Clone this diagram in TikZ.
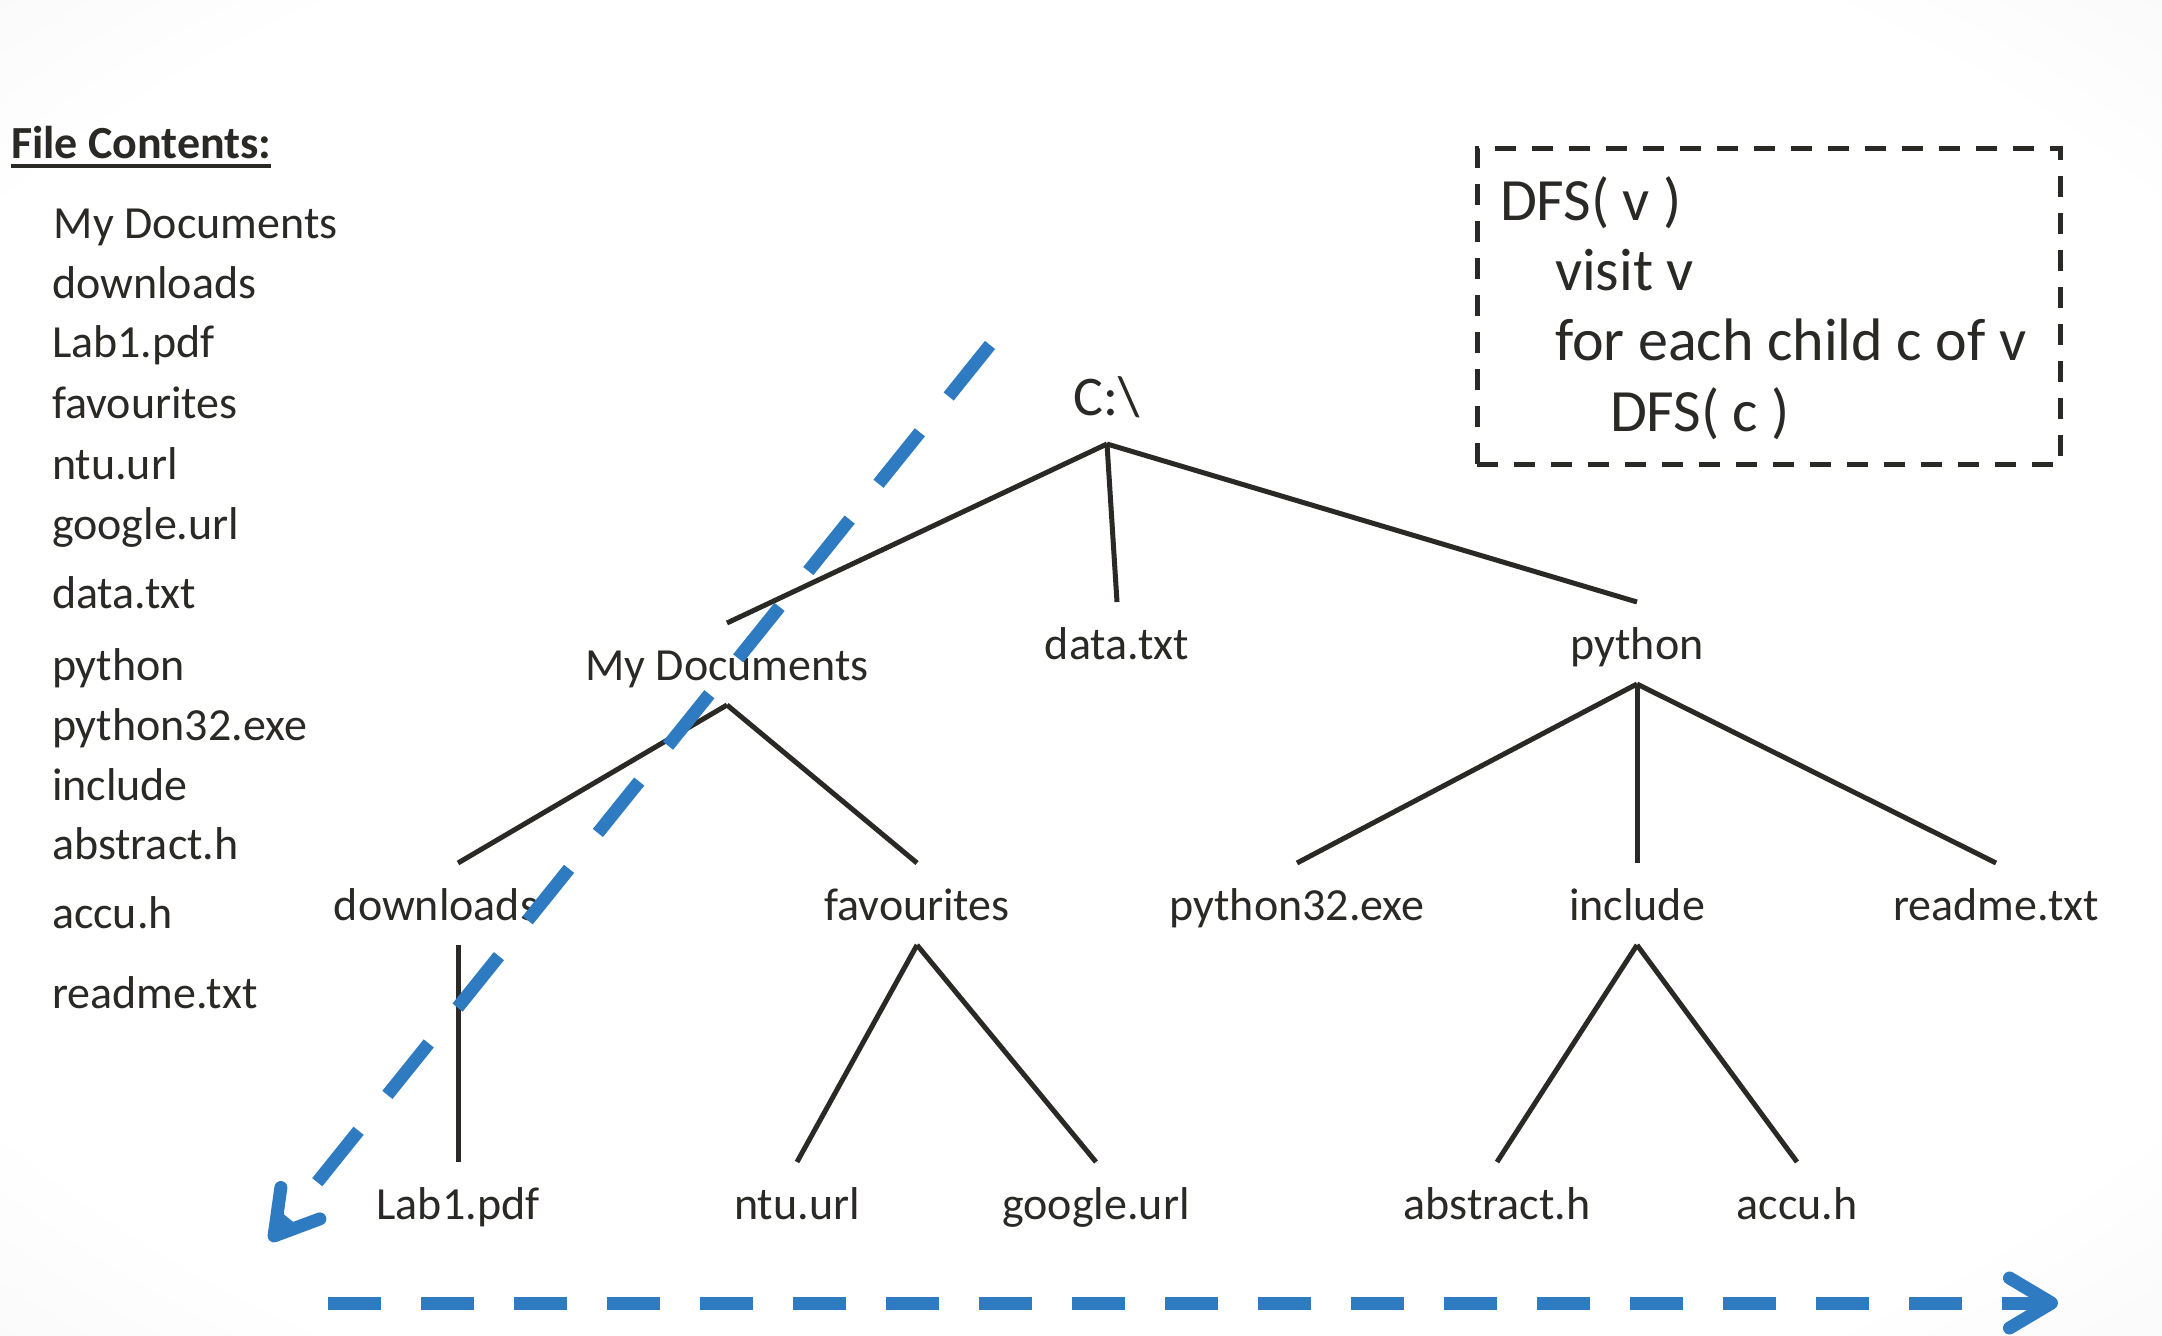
\documentclass[tikz,border=0pt]{standalone}
\usepackage{fontspec}
\setmainfont{Carlito}
\usetikzlibrary{arrows.meta}
\definecolor{ink}{RGB}{42,41,37}
\definecolor{dfsblue}{RGB}{46,123,193}
\pgfdeclareradialshading{vignette}{\pgfpoint{0bp}{0bp}}{color(0bp)=(white); color(30bp)=(white); color(50bp)=(black!7); color(72bp)=(black!16)}
\begin{document}
\begin{tikzpicture}[x=0.5pt,y=-0.5pt,
  every node/.style={inner sep=0pt, outer sep=0pt, text=ink},
  listitem/.style={anchor=base west, font=\fontsize{23}{27}\selectfont},
  treelabel/.style={anchor=base, font=\fontsize{23}{27}\selectfont, text height=28.5pt, text depth=12.5pt},
  codeline/.style={anchor=base west, font=\fontsize{30}{34}\selectfont},
  treeedge/.style={draw=ink, line width=2.5pt},
  dfsbox/.style={draw=ink, line width=2.5pt, dash pattern=on 10.5pt off 8pt},
  dfsarrow/.style={draw=dfsblue, line width=6.5pt, -{Straight Barb[length=21pt,width=25pt,line cap=round,line join=round]}}
]
\useasboundingbox (0,0) rectangle (2162,1336);
\shade[shading=vignette] (0,0) rectangle (2162,1336);

% file contents list
\node[anchor=base west, font=\bfseries\fontsize{23}{27}\selectfont] (fc) at (11,159) {File Contents:};
\draw[line width=2pt, ink] ([yshift=-3.5pt]fc.base west) -- ([yshift=-3.5pt]fc.base east);
\node[listitem] (l1) at (54,239) {My Documents};
\node[listitem] (l2) at (52,299) {downloads};
\node[listitem] (l3) at (52,358) {Lab1.pdf};
\node[listitem] (l4) at (52,419) {favourites};
\node[listitem] (l5) at (52,480) {ntu.url};
\node[listitem] (l6) at (52,539) {google.url};
\node[listitem] (l7) at (52,608) {data.txt};
\node[listitem] (l8) at (52,680) {python};
\node[listitem] (l9) at (52,740) {python32.exe};
\node[listitem] (l10) at (52,800) {include};
\node[listitem] (l11) at (52,859) {abstract.h};
\node[listitem] (l12) at (52,928) {accu.h};
\node[listitem] (l13) at (52,1008) {readme.txt};

% DFS pseudo code box
\node[dfsbox, minimum width=291.5pt, minimum height=158pt] (box) at (1768.5,307) {};
\node[codeline] (c1) at (1500,221) {DFS( v )};
\node[codeline] (c2) at (1555,291) {visit v};
\node[codeline] (c3) at (1555,361) {for each child c of v};
\node[codeline] (c4) at (1610,432) {DFS( c )};

% tree
\node[treelabel, font=\fontsize{28}{32}\selectfont, text depth=14pt] (root) at (1107,416) {C:\textbackslash};
\node[treelabel] (mydocs) at (727,680) {My Documents};
\node[treelabel] (datatxt) at (1117,659) {data.txt};
\node[treelabel] (python) at (1637,659) {python};
\node[treelabel] (downloads) at (436,920) {downloads};
\node[treelabel] (favourites) at (917,920) {favourites};
\node[treelabel] (py32) at (1297,920) {python32.exe};
\node[treelabel] (include) at (1637,920) {include};
\node[treelabel] (readme) at (1996,920) {readme.txt};
\node[treelabel] (lab1) at (458,1219) {Lab1.pdf};
\node[treelabel] (ntu) at (797,1219) {ntu.url};
\node[treelabel] (google) at (1096,1219) {google.url};
\node[treelabel] (abstract) at (1497,1219) {abstract.h};
\node[treelabel] (accu) at (1797,1219) {accu.h};

\draw[treeedge] (root.south) -- (mydocs.north);
\draw[treeedge] (root.south) -- (datatxt.north);
\draw[treeedge] (root.south) -- (python.north);
\draw[treeedge] (mydocs.south) -- ([xshift=11pt]downloads.north);
\draw[treeedge] (mydocs.south) -- (favourites.north);
\draw[treeedge] (python.south) -- (py32.north);
\draw[treeedge] (python.south) -- (include.north);
\draw[treeedge] (python.south) -- (readme.north);
\draw[treeedge] ([xshift=11pt]downloads.south) -- (lab1.north);
\draw[treeedge] (favourites.south) -- (ntu.north);
\draw[treeedge] (favourites.south) -- (google.north);
\draw[treeedge] (include.south) -- (abstract.north);
\draw[treeedge] (include.south) -- (accu.north);

% traversal arrows
\coordinate (d1) at (990,345);
\coordinate (d2) at (270,1241);
\coordinate (h1) at (328,1303);
\coordinate (h2) at (2058,1303);
\draw[dfsarrow, dash pattern=on 33pt off 23pt] (d1) -- (d2);
\draw[dfsarrow, dash pattern=on 26.5pt off 20pt] (h1) -- (h2);
\end{tikzpicture}
\end{document}
